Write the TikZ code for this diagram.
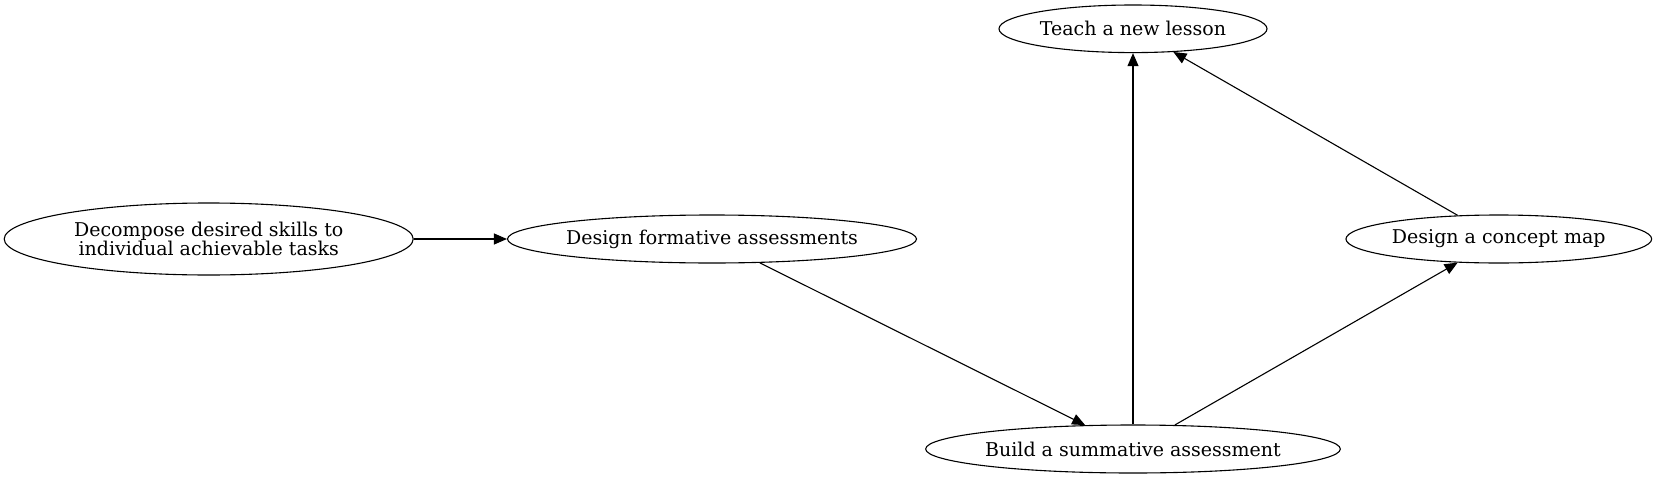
\documentclass[tikz,border=0pt]{standalone}
\usepackage{fontspec}
\setmainfont{DejaVu Serif}
\usetikzlibrary{shapes.geometric,arrows.meta}
\begin{document}
\begin{tikzpicture}[x=1pt,y=-1pt,
  every node/.style={font=\fontsize{19}{19.5}\selectfont},
  oval/.style={ellipse,draw,line width=1.1pt,inner xsep=-10pt,inner ysep=0pt,align=center},
  conn/.style={line width=1.1pt,-{Triangle[length=13pt,width=11pt]}}]
\useasboundingbox (0,0) rectangle (1654,479);
\node[oval,minimum width=268pt,minimum height=47.6pt] (teach) at (1133,28.8) {Teach a new lesson};
\node[oval,minimum width=409pt,minimum height=72pt] (decomp) at (208.7,239) {Decompose desired skills to\\individual achievable tasks};
\node[oval,minimum width=409pt,minimum height=48pt] (form) at (712,239) {Design formative assessments};
\node[oval,minimum width=305.7pt,minimum height=48pt] (concept) at (1498.8,239) {Design a concept map};
\node[oval,minimum width=414.7pt,minimum height=48pt] (build) at (1133,449) {Build a summative assessment};
\draw[conn] (decomp) -- (form);
\draw[conn] (form) -- (build);
\draw[conn] (build) -- (teach);
\draw[conn] (build) -- (concept);
\draw[conn] (concept) -- (teach);
\end{tikzpicture}
\end{document}
